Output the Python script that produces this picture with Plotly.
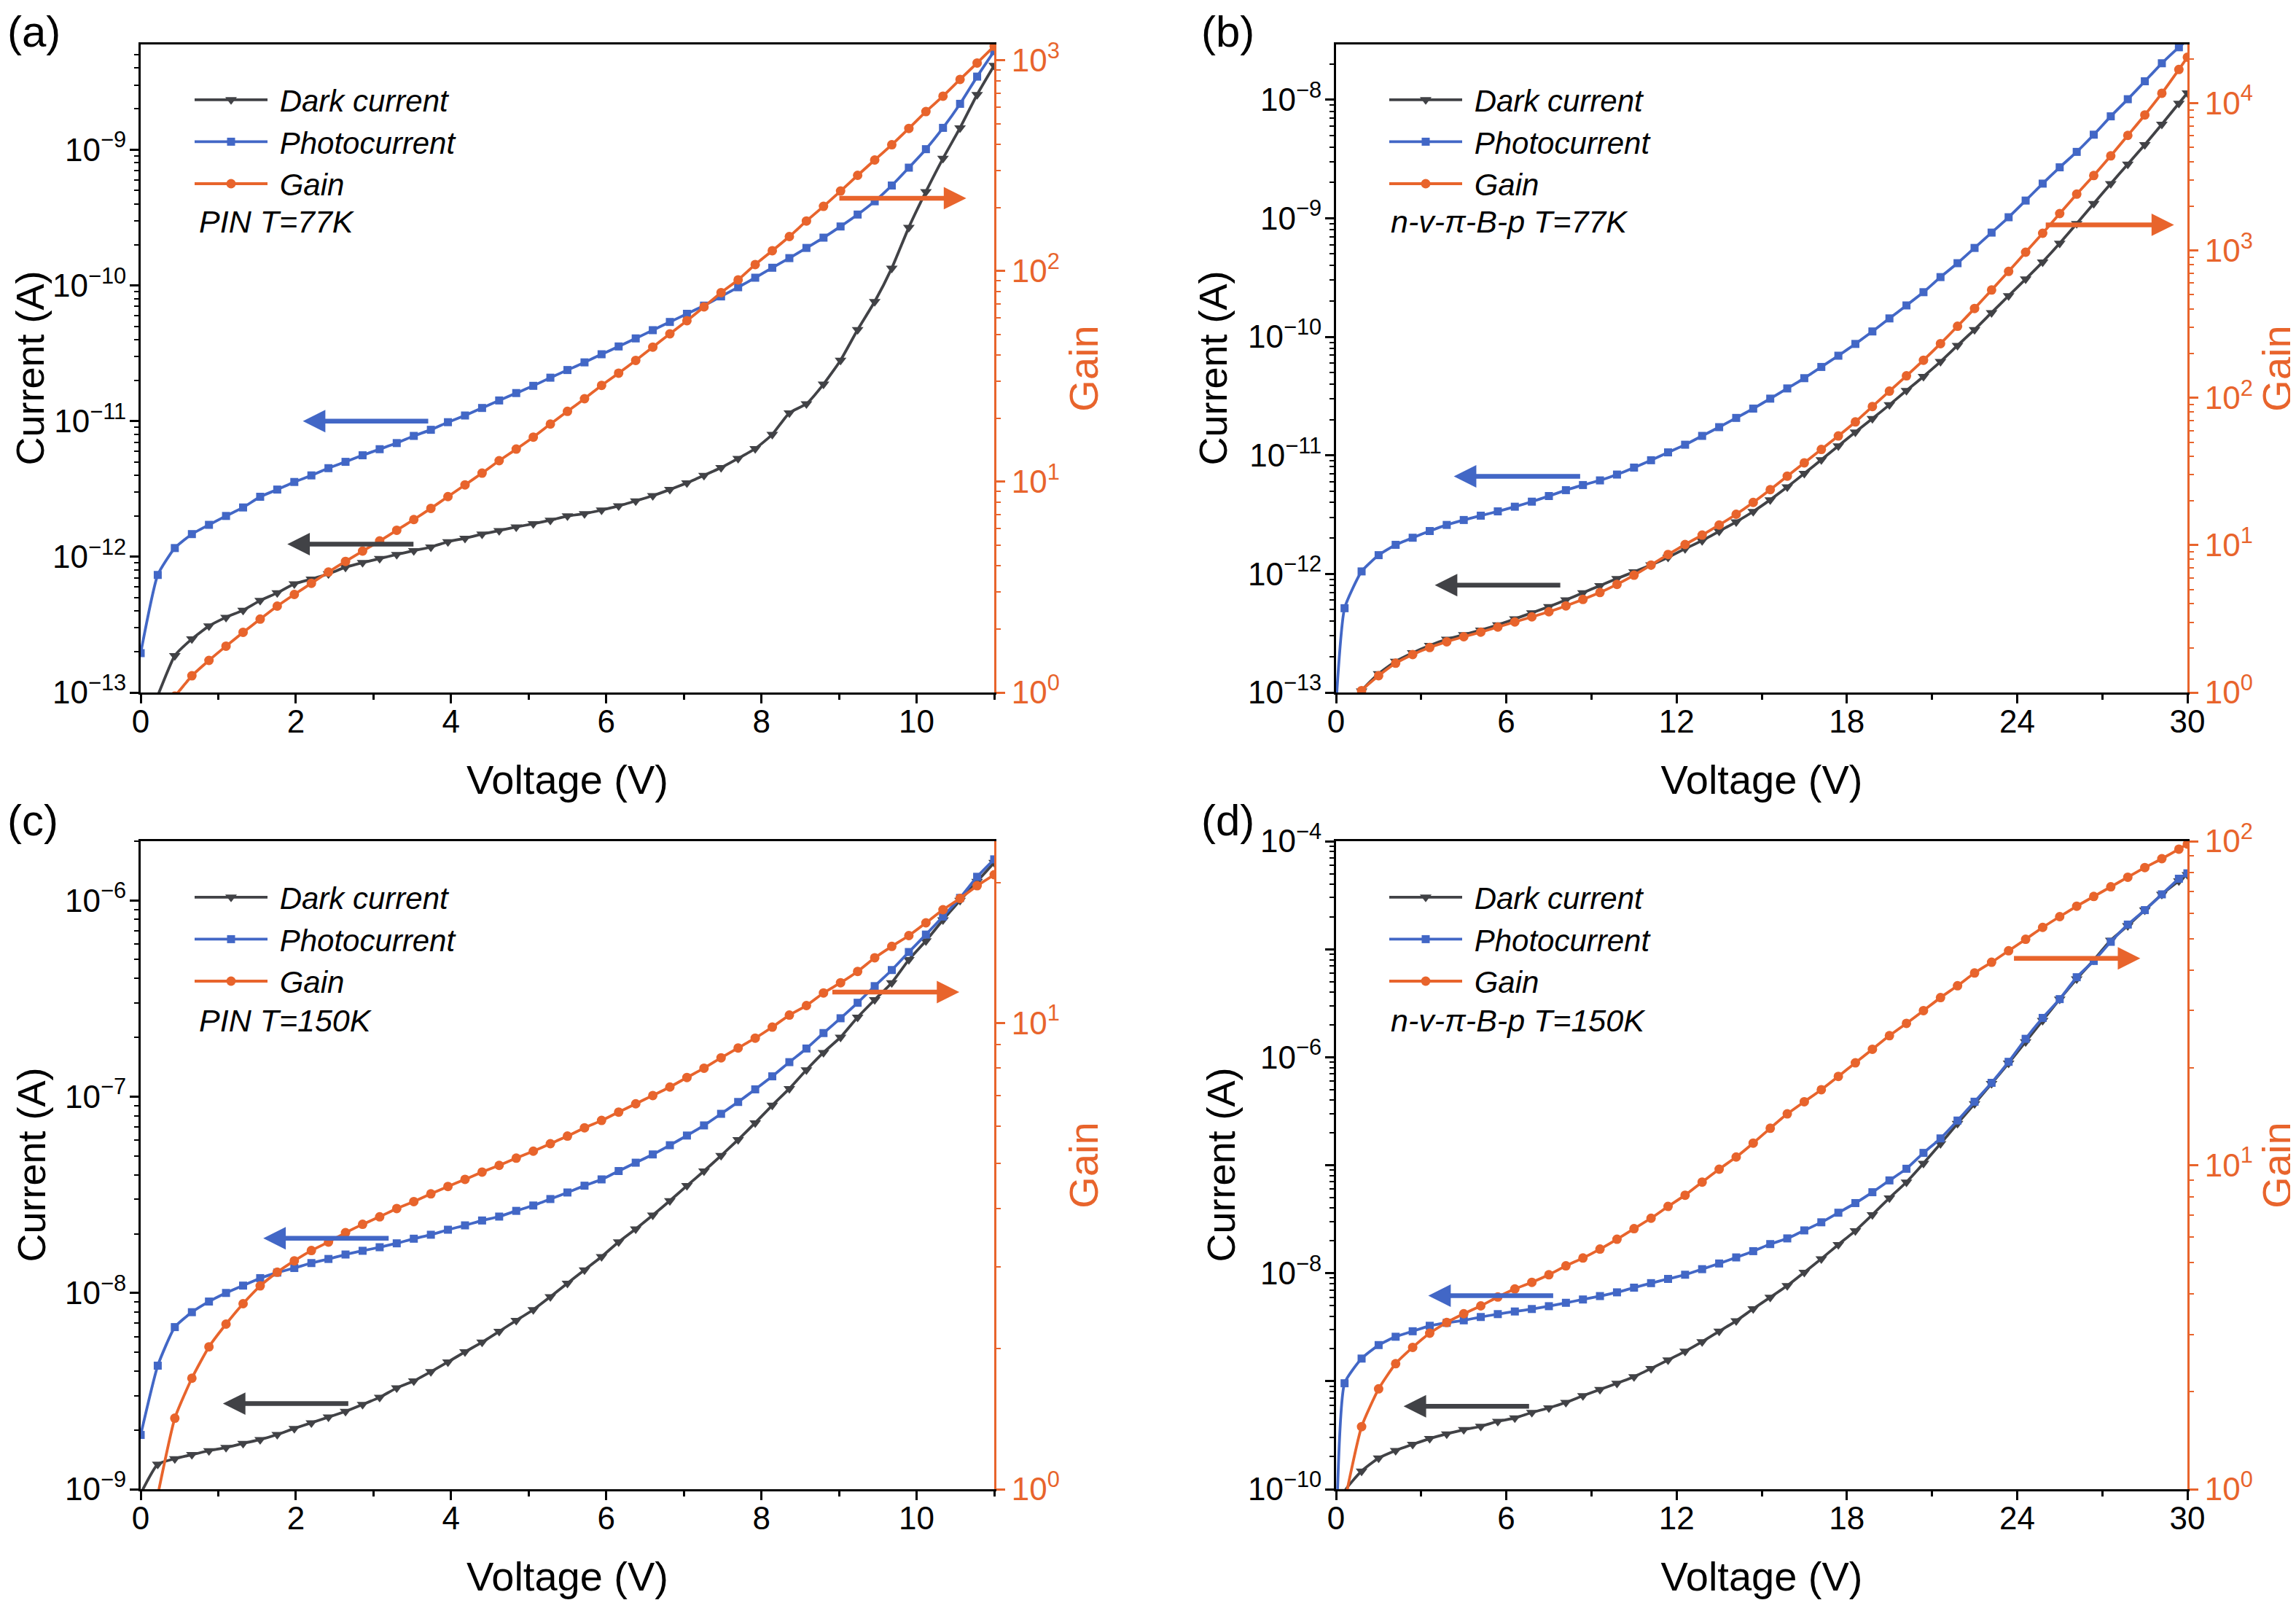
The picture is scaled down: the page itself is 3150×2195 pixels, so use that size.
import math
import plotly.graph_objects as go

# voltage grids
v_pin = [0, 0.22, 0.44, 0.66, 0.88, 1.1, 1.32, 1.54, 1.76, 1.98, 2.2, 2.42, 2.64, 2.86, 3.08,
         3.3, 3.52, 3.74, 3.96, 4.18, 4.4, 4.62, 4.84, 5.06, 5.28, 5.5, 5.72, 5.94, 6.16, 6.38,
         6.6, 6.82, 7.04, 7.26, 7.48, 7.7, 7.92, 8.14, 8.36, 8.58, 8.8, 9.02, 9.24, 9.46, 9.68,
         9.9, 10.12, 10.34, 10.56, 10.78, 11.0]
v_nvpbp = [0, 0.3, 0.9, 1.5, 2.1, 2.7, 3.3, 3.9, 4.5, 5.1, 5.7, 6.3, 6.9, 7.5, 8.1, 8.7, 9.3,
           9.9, 10.5, 11.1, 11.7, 12.3, 12.9, 13.5, 14.1, 14.7, 15.3, 15.9, 16.5, 17.1, 17.7,
           18.3, 18.9, 19.5, 20.1, 20.7, 21.3, 21.9, 22.5, 23.1, 23.7, 24.3, 24.9, 25.5, 26.1,
           26.7, 27.3, 27.9, 28.5, 29.1, 29.7, 30.0]

# (a) PIN, 77 K
dark_pin77 = [5e-14, 9.5e-14, 1.87e-13, 2.48e-13, 3.09e-13, 3.58e-13, 4.04e-13, 4.76e-13, 5.42e-13,
              6.31e-13, 6.85e-13, 7.48e-13, 8.38e-13, 9.06e-13, 9.7e-13, 1.04e-12, 1.11e-12,
              1.18e-12, 1.29e-12, 1.37e-12, 1.47e-12, 1.56e-12, 1.66e-12, 1.75e-12, 1.86e-12,
              2.0e-12, 2.08e-12, 2.21e-12, 2.37e-12, 2.58e-12, 2.82e-12, 3.13e-12, 3.5e-12,
              3.98e-12, 4.54e-12, 5.31e-12, 6.27e-12, 7.98e-12, 1.15e-11, 1.34e-11, 1.87e-11,
              2.81e-11, 4.72e-11, 7.6e-11, 1.34e-10, 2.68e-10, 4.91e-10, 8.63e-10, 1.45e-9,
              2.55e-9, 4.18e-9]
photo_pin77 = [1.95e-13, 7.35e-13, 1.16e-12, 1.47e-12, 1.72e-12, 2.0e-12, 2.31e-12, 2.77e-12,
               3.13e-12, 3.56e-12, 3.98e-12, 4.5e-12, 5.01e-12, 5.6e-12, 6.21e-12, 6.89e-12,
               7.78e-12, 8.63e-12, 9.82e-12, 1.1e-11, 1.25e-11, 1.42e-11, 1.61e-11, 1.82e-11,
               2.09e-11, 2.38e-11, 2.71e-11, 3.11e-11, 3.55e-11, 4.07e-11, 4.68e-11, 5.38e-11,
               6.18e-11, 7.1e-11, 8.3e-11, 9.7e-11, 1.14e-10, 1.35e-10, 1.59e-10, 1.89e-10,
               2.25e-10, 2.72e-10, 3.33e-10, 4.17e-10, 5.45e-10, 7.38e-10, 1.01e-9, 1.45e-9,
               2.18e-9, 3.46e-9, 5.33e-9]
gain_pin77 = [0.6, 0.8, 0.96, 1.2, 1.42, 1.66, 1.93, 2.23, 2.57, 2.92, 3.3, 3.73, 4.19, 4.69, 5.24,
              5.89, 6.62, 7.48, 8.51, 9.67, 11.0, 12.6, 14.3, 16.3, 18.8, 21.6, 24.8, 28.7, 32.8,
              37.7, 43.6, 50.4, 58.2, 67.7, 79.1, 90.9, 107.5, 125, 146, 173, 203, 240, 285, 337,
              398, 476, 572, 677, 813, 973, 1169]

# (b) n-v-pi-B-p, 77 K
dark_nvpbp77 = [3e-14, 5e-14, 1.03e-13, 1.44e-13, 1.83e-13, 2.16e-13, 2.49e-13, 2.81e-13, 3.07e-13,
                3.36e-13, 3.72e-13, 4.18e-13, 4.7e-13, 5.3e-13, 6.03e-13, 6.93e-13, 7.96e-13,
                9.14e-13, 1.04e-12, 1.19e-12, 1.38e-12, 1.63e-12, 1.91e-12, 2.29e-12, 2.75e-12,
                3.36e-12, 4.22e-12, 5.41e-12, 7.03e-12, 9.18e-12, 1.2e-11, 1.57e-11, 2.04e-11,
                2.67e-11, 3.52e-11, 4.63e-11, 6.18e-11, 8.45e-11, 1.15e-10, 1.6e-10, 2.22e-10,
                3.07e-10, 4.28e-10, 6.15e-10, 9.02e-10, 1.33e-9, 1.96e-9, 2.86e-9, 4.18e-9,
                6.21e-9, 9.33e-9, 1.14e-8]
photo_nvpbp77 = [8e-14, 5.14e-13, 1.05e-12, 1.44e-12, 1.76e-12, 2.02e-12, 2.3e-12, 2.59e-12,
                 2.85e-12, 3.1e-12, 3.37e-12, 3.69e-12, 4.07e-12, 4.54e-12, 5.09e-12, 5.62e-12,
                 6.15e-12, 6.89e-12, 7.89e-12, 9.1e-12, 1.06e-11, 1.23e-11, 1.46e-11, 1.73e-11,
                 2.07e-11, 2.48e-11, 3.01e-11, 3.67e-11, 4.48e-11, 5.57e-11, 6.93e-11, 8.71e-11,
                 1.11e-10, 1.43e-10, 1.84e-10, 2.38e-10, 3.19e-10, 4.18e-10, 5.62e-10, 7.57e-10,
                 1.02e-9, 1.41e-9, 1.96e-9, 2.69e-9, 3.63e-9, 5.07e-9, 7.24e-9, 1.01e-8, 1.43e-8,
                 2.03e-8, 2.77e-8, 3.19e-8]
gain_nvpbp77 = [0.3, 0.7, 1.03, 1.3, 1.58, 1.81, 2.02, 2.21, 2.39, 2.57, 2.78, 3.01, 3.26, 3.53,
                3.87, 4.28, 4.77, 5.42, 6.25, 7.33, 8.64, 10.1, 11.7, 13.7, 16.2, 19.5, 23.8, 29.4,
                36.2, 44.6, 55.1, 68.6, 87.3, 111, 141, 180, 233, 306, 404, 539, 721, 973, 1308,
                1779, 2410, 3225, 4385, 6037, 8310, 11670, 16920, 20490]

# (c) PIN, 150 K
dark_pin150 = [9.5e-10, 1.34e-9, 1.43e-9, 1.5e-9, 1.57e-9, 1.63e-9, 1.71e-9, 1.79e-9, 1.9e-9,
               2.04e-9, 2.18e-9, 2.33e-9, 2.49e-9, 2.7e-9, 2.94e-9, 3.28e-9, 3.56e-9, 3.97e-9,
               4.45e-9, 5.01e-9, 5.61e-9, 6.37e-9, 7.24e-9, 8.22e-9, 9.57e-9, 1.12e-8, 1.31e-8,
               1.53e-8, 1.82e-8, 2.12e-8, 2.49e-8, 2.95e-8, 3.52e-8, 4.18e-8, 5.01e-8, 6.04e-8,
               7.36e-8, 9.04e-8, 1.1e-7, 1.37e-7, 1.68e-7, 2.01e-7, 2.54e-7, 3.12e-7, 3.81e-7,
               4.99e-7, 6.22e-7, 7.96e-7, 1.0e-6, 1.25e-6, 1.56e-6]
photo_pin150 = [1.89e-9, 4.26e-9, 6.7e-9, 7.98e-9, 9.04e-9, 1.0e-8, 1.09e-8, 1.19e-8, 1.27e-8,
                1.34e-8, 1.42e-8, 1.49e-8, 1.57e-8, 1.64e-8, 1.71e-8, 1.79e-8, 1.89e-8, 1.98e-8,
                2.1e-8, 2.21e-8, 2.34e-8, 2.45e-8, 2.62e-8, 2.79e-8, 3.01e-8, 3.25e-8, 3.52e-8,
                3.79e-8, 4.18e-8, 4.61e-8, 5.08e-8, 5.66e-8, 6.34e-8, 7.14e-8, 8.18e-8, 9.4e-8,
                1.09e-7, 1.27e-7, 1.5e-7, 1.76e-7, 2.11e-7, 2.51e-7, 3.01e-7, 3.66e-7, 4.42e-7,
                5.46e-7, 6.7e-7, 8.28e-7, 1.03e-6, 1.32e-6, 1.62e-6]
gain_pin150 = [0.6, 0.97, 1.42, 1.73, 2.02, 2.26, 2.5, 2.73, 2.92, 3.09, 3.25, 3.39, 3.55, 3.7, 3.84,
               4.0, 4.14, 4.3, 4.46, 4.62, 4.79, 4.95, 5.13, 5.31, 5.51, 5.72, 5.96, 6.18, 6.44,
               6.71, 6.99, 7.29, 7.64, 8.0, 8.42, 8.84, 9.28, 9.8, 10.4, 10.9, 11.6, 12.2, 12.9,
               13.8, 14.6, 15.4, 16.4, 17.5, 18.5, 19.7, 20.8]

# (d) n-v-pi-B-p, 150 K
dark_nvpbp150 = [3e-11, 9.5e-11, 1.47e-10, 1.94e-10, 2.28e-10, 2.6e-10, 2.94e-10, 3.25e-10,
                 3.56e-10, 3.82e-10, 4.25e-10, 4.56e-10, 5.13e-10, 5.66e-10, 6.35e-10, 7.33e-10,
                 8.38e-10, 9.57e-10, 1.1e-9, 1.31e-9, 1.57e-9, 1.89e-9, 2.32e-9, 2.9e-9, 3.62e-9,
                 4.68e-9, 5.98e-9, 7.67e-9, 1.02e-8, 1.36e-8, 1.84e-8, 2.47e-8, 3.48e-8, 4.97e-8,
                 6.97e-8, 1.04e-7, 1.58e-7, 2.43e-7, 3.71e-7, 5.69e-7, 8.81e-7, 1.39e-6, 2.19e-6,
                 3.45e-6, 5.31e-6, 7.93e-6, 1.21e-5, 1.65e-5, 2.3e-5, 3.22e-5, 4.29e-5, 4.9e-5]
photo_nvpbp150 = [3e-11, 9.57e-10, 1.62e-9, 2.16e-9, 2.58e-9, 2.9e-9, 3.26e-9, 3.47e-9, 3.66e-9,
                  3.93e-9, 4.18e-9, 4.42e-9, 4.66e-9, 4.95e-9, 5.32e-9, 5.71e-9, 6.14e-9, 6.65e-9,
                  7.35e-9, 8.09e-9, 8.85e-9, 9.68e-9, 1.09e-8, 1.23e-8, 1.4e-8, 1.6e-8, 1.86e-8,
                  2.1e-8, 2.49e-8, 2.96e-8, 3.63e-8, 4.46e-8, 5.62e-8, 7.23e-8, 9.27e-8, 1.3e-7,
                  1.77e-7, 2.59e-7, 3.87e-7, 5.79e-7, 9.06e-7, 1.48e-6, 2.31e-6, 3.45e-6, 5.5e-6,
                  7.78e-6, 1.17e-5, 1.69e-5, 2.3e-5, 3.22e-5, 4.49e-5, 5.04e-5]
gain_nvpbp150 = [0.5, 0.9, 1.56, 2.04, 2.44, 2.74, 3.03, 3.27, 3.48, 3.68, 3.92, 4.15, 4.35, 4.59,
                 4.89, 5.17, 5.51, 5.91, 6.37, 6.86, 7.46, 8.08, 8.87, 9.72, 10.6, 11.7, 13.0, 14.4,
                 15.7, 17.1, 18.8, 20.7, 22.8, 25.1, 27.4, 30.0, 32.9, 35.8, 39.2, 42.3, 45.9, 49.8,
                 54.2, 58.5, 63.0, 67.5, 72.3, 77.4, 82.9, 88.3, 94.5, 98.0]

FONT = "Liberation Sans, Arial, sans-serif"
C_DARK = "#414246"
C_PHOTO = "#4267c6"
C_GAIN = "#e8642c"
W, H = 3150, 2195
OFF = 8  # the page puts the figure 8 px in from the top-left corner


def fx(px):
    return (px - OFF) / W


def fy(py):
    return 1 - (py - OFF) / H


x_dom = [[fx(193), fx(1364)], [fx(1833), fx(3001)]]
y_dom = [[fy(950), fy(61)], [fy(2043), fy(1154)]]

# per-panel setup: y ranges are log10; lab_every = label every n-th decade
panels = [
    dict(v=v_pin, dark=dark_pin77, photo=photo_pin77, gain=gain_pin77, xmax=11, xdt=2,
         yr=[-13, -8.224], gr=[0, 3.076], lab_every=1, label="(a)", note="PIN T=77K", ytx=41,
         arrows=[(2.09, 3.72, 1e-11, C_PHOTO, "L"), (1.89, 3.53, 1.24e-12, C_DARK, "L"),
                 (10.64, 8.99, 222, C_GAIN, "R")]),
    dict(v=v_nvpbp, dark=dark_nvpbp77, photo=photo_nvpbp77, gain=gain_nvpbp77, xmax=30, xdt=6,
         yr=[-13, -7.534], gr=[0, 4.398], lab_every=1, label="(b)", note="n-v-π-B-p T=77K",
         ytx=1664,
         arrows=[(4.15, 8.64, 6.65e-12, C_PHOTO, "L"), (3.48, 7.94, 8.04e-13, C_DARK, "L"),
                 (29.53, 24.97, 1493, C_GAIN, "R")]),
    dict(v=v_pin, dark=dark_pin150, photo=photo_pin150, gain=gain_pin150, xmax=11, xdt=2,
         yr=[-9, -5.698], gr=[0, 1.39], lab_every=1, label="(c)", note="PIN T=150K", ytx=42,
         arrows=[(1.58, 3.21, 1.9e-8, C_PHOTO, "L"), (1.06, 2.69, 2.73e-9, C_DARK, "L"),
                 (10.55, 8.9, 11.65, C_GAIN, "R")]),
    dict(v=v_nvpbp, dark=dark_nvpbp150, photo=photo_nvpbp150, gain=gain_nvpbp150, xmax=30, xdt=6,
         yr=[-10, -4], gr=[0, 2], lab_every=2, label="(d)", note="n-v-π-B-p T=150K", ytx=1674,
         arrows=[(3.25, 7.69, 6.19e-9, C_PHOTO, "L"), (2.38, 6.84, 5.86e-10, C_DARK, "L"),
                 (28.34, 23.85, 43.5, C_GAIN, "R")]),
]


def log_ticks(lo, hi, every=1):
    major = [e for e in range(math.ceil(lo - 1e-9), math.floor(hi + 1e-9) + 1)]
    vals = [10.0 ** e for e in major]
    text = []
    for e in major:
        if (e - major[0]) % every:
            text.append("")
        else:
            text.append("10<sup>%s</sup>" % (("−%d" % -e) if e < 0 else str(e)))
    minor = [m * 10.0 ** e for e in range(math.floor(lo), math.ceil(hi) + 1) for m in range(2, 10)
             if lo <= math.log10(m) + e <= hi]
    return vals, text, minor


fig = go.Figure()
layout = dict(width=W, height=H, margin=dict(l=0, r=0, t=0, b=0, autoexpand=False),
              paper_bgcolor="white", plot_bgcolor="white", font=dict(family=FONT, color="black"),
              annotations=[])

for p, pan in enumerate(panels):
    col, row = p % 2, p // 2
    xn = "" if p == 0 else str(p + 1)
    nl, nr = 2 * p + 1, 2 * p + 2
    yl = "y" if nl == 1 else "y%d" % nl
    yr_ = "y%d" % nr
    xref = "x" + xn
    lg = "legend" if p == 0 else "legend%d" % (p + 1)

    line_kw = dict(width=3.8, shape="spline", smoothing=0.5)
    fig.add_trace(go.Scatter(x=pan["v"], y=pan["dark"], xaxis=xref, yaxis=yl, name=" Dark current",
                             mode="lines+markers", legend=lg,
                             line=dict(color=C_DARK, **line_kw),
                             marker=dict(symbol="triangle-down", size=14, color=C_DARK)))
    fig.add_trace(go.Scatter(x=pan["v"], y=pan["photo"], xaxis=xref, yaxis=yl, name=" Photocurrent",
                             mode="lines+markers", legend=lg,
                             line=dict(color=C_PHOTO, **line_kw),
                             marker=dict(symbol="square", size=11, color=C_PHOTO)))
    fig.add_trace(go.Scatter(x=pan["v"], y=pan["gain"], xaxis=xref, yaxis=yr_, name=" Gain",
                             mode="lines+markers", legend=lg,
                             line=dict(color=C_GAIN, **line_kw),
                             marker=dict(symbol="circle", size=13, color=C_GAIN)))

    layout["xaxis" + xn] = dict(
        domain=x_dom[col], anchor=yl, range=[0, pan["xmax"]], tickmode="linear", tick0=0,
        dtick=pan["xdt"], ticks="outside", ticklen=12, tickwidth=3, tickcolor="black",
        showline=True, linewidth=3, linecolor="black", mirror=True, showgrid=False, zeroline=False,
        automargin=False, tickfont=dict(size=44), ticklabelstandoff=-13,
        title=dict(text="Voltage (V)", font=dict(size=56), standoff=38),
        minor=dict(dtick=pan["xdt"] / 2, tick0=0, ticks="outside", ticklen=7, tickwidth=3,
                   tickcolor="black", showgrid=False))

    tv, tt, mv = log_ticks(pan["yr"][0], pan["yr"][1], pan["lab_every"])
    layout["yaxis" + ("" if nl == 1 else str(nl))] = dict(
        domain=y_dom[row], anchor=xref, type="log", range=pan["yr"], tickmode="array",
        tickvals=tv, ticktext=tt, ticks="outside", ticklen=12, tickwidth=3, tickcolor="black",
        showline=True, linewidth=3, linecolor="black", showgrid=False, zeroline=False,
        automargin=False, tickfont=dict(size=44), ticklabelstandoff=-4,
        minor=dict(tickmode="array", tickvals=mv, ticks="outside", ticklen=6, tickwidth=2,
                   tickcolor="black", showgrid=False))

    gv, gt, gm = log_ticks(pan["gr"][0], pan["gr"][1])
    layout["yaxis%d" % nr] = dict(
        overlaying=yl, anchor=xref, side="right", type="log", range=pan["gr"], tickmode="array",
        tickvals=gv, ticktext=gt, ticks="outside", ticklen=12, tickwidth=3, tickcolor=C_GAIN,
        showline=True, linewidth=3, linecolor=C_GAIN, showgrid=False, zeroline=False,
        automargin=False, tickfont=dict(size=44, color=C_GAIN),
        title=dict(text="Gain", font=dict(size=56, color=C_GAIN), standoff=14),
        minor=dict(tickmode="array", tickvals=gm, ticks="outside", ticklen=6, tickwidth=2,
                   tickcolor=C_GAIN, showgrid=False))

    layout[lg] = dict(x=fx([262, 1901][col]), y=fy([103, 1197][row]), xanchor="left",
                      yanchor="top", bgcolor="rgba(0,0,0,0)", borderwidth=0, itemwidth=100,
                      tracegroupgap=0,
                      font=dict(family=FONT, size=42, style="italic", color="black"))

    # left axis title, placed by hand so it can sit close to the page edge
    layout["annotations"].append(dict(
        xref="paper", yref="paper", x=fx(pan["ytx"]), y=sum(y_dom[row]) / 2, xanchor="center",
        yanchor="middle", textangle=-90, showarrow=False, text="Current (A)", borderpad=0,
        font=dict(family=FONT, size=54, color="black")))
    # device / temperature note under the legend
    layout["annotations"].append(dict(
        xref="paper", yref="paper", x=fx([271, 1906][col]), y=fy([304, 1400][row]),
        xanchor="left", yanchor="middle", showarrow=False, text=pan["note"],
        font=dict(family=FONT, size=43, style="italic", color="black")))
    # panel label
    if row == 0:
        lab_pos = dict(y=1, yanchor="top")
    else:
        lab_pos = dict(y=fy(1125), yanchor="middle")
    layout["annotations"].append(dict(
        xref="paper", yref="paper", x=fx([8, 1646][col]), xanchor="left", showarrow=False,
        text=pan["label"], font=dict(family=FONT, size=60, color="black"), **lab_pos))
    # axis arrows
    for head, tail, lev, colr, side in pan["arrows"]:
        yref = yl if side == "L" else yr_
        layout["annotations"].append(dict(
            xref=xref, yref=yref, axref=xref, ayref=yref, x=head, y=math.log10(lev), ax=tail,
            ay=math.log10(lev), text="", showarrow=True, arrowhead=2, arrowsize=0.95,
            arrowwidth=6.5, arrowcolor=colr))

fig.update_layout(**layout)
fig.write_html("out.html")
